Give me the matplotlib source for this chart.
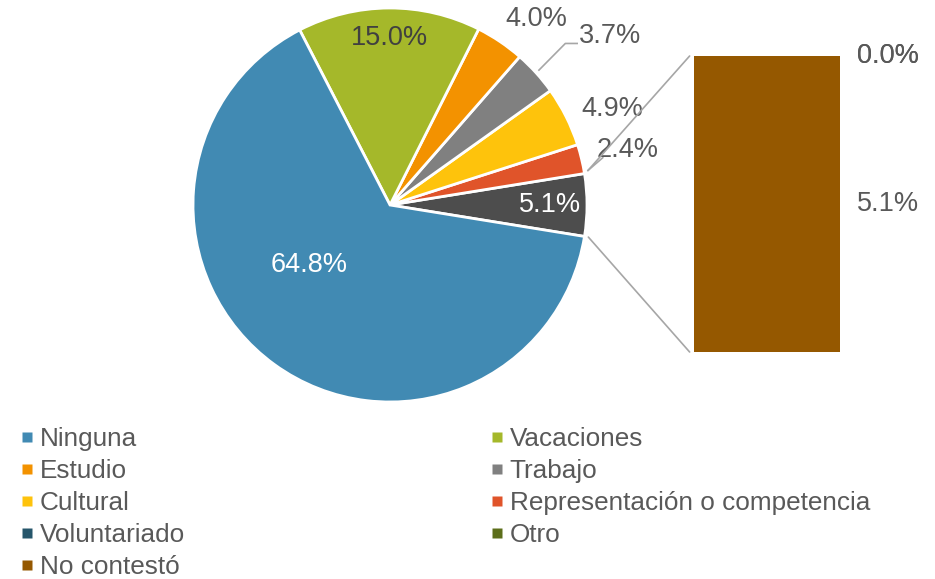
import numpy as np
import matplotlib
matplotlib.use("Agg")
from matplotlib import pyplot as plt
from matplotlib.lines import Line2D
from matplotlib.patches import ConnectionPatch

plt.rcParams['font.family'] = ['Liberation Sans', 'DejaVu Sans']

# datos (%)
pie_labels = ['Otros', 'Representación o competencia', 'Cultural', 'Trabajo',
              'Estudio', 'Vacaciones', 'Ninguna']
pie_values = [5.1, 2.4, 4.9, 3.7, 4.0, 15.0, 64.8]
bar_labels = ['No contestó', 'Otro', 'Voluntariado']
bar_values = [5.1, 0.0, 0.0]

legend_col1 = ['Ninguna', 'Estudio', 'Cultural', 'Voluntariado', 'No contestó']
legend_col2 = ['Vacaciones', 'Trabajo', 'Representación o competencia', 'Otro']

colors = {
    'Otros': '#4d4d4d',
    'Representación o competencia': '#e0542a',
    'Cultural': '#fec30c',
    'Trabajo': '#808080',
    'Estudio': '#f39200',
    'Vacaciones': '#a5b82a',
    'Ninguna': '#418ab3',
    'Voluntariado': '#26566b',
    'Otro': '#5c6e1a',
    'No contestó': '#955800',
}
text_col = '#595959'

# estilo de etiquetas: (radio, desfase de ángulo, color)
lab_style = [(0.81, 0.0, 'white'), (1.24, -0.5, text_col), (1.23, -3.2, text_col),
             (1.41, -4.7, text_col), (1.20, -4.2, text_col), (0.85, -0.2, '#404040'),
             (0.51, -17.7, 'white')]

W, H = 935, 579
fig = plt.figure(figsize=(W / 100, H / 100), dpi=100)

# pastel
cx, cy, r = 390, 205, 197
ax = fig.add_axes([(cx - r) / W, 1 - (cy + r) / H, 2 * r / W, 2 * r / H])
start = -pie_values[0] * 360 / sum(pie_values) / 2
wedges, _ = ax.pie(pie_values, colors=[colors[k] for k in pie_labels],
                   startangle=start, counterclock=True,
                   wedgeprops=dict(edgecolor='white', linewidth=2))
ax.set_xlim(-1, 1)
ax.set_ylim(-1, 1)
ax.axis('off')

for w, v, (rad, dang, c) in zip(wedges, pie_values, lab_style):
    mid = np.deg2rad((w.theta1 + w.theta2) / 2 + dang)
    ax.text(rad * np.cos(mid), rad * np.sin(mid), f'{v:.1f}%', ha='center',
            va='center', fontsize=19.5, color=c)

# líneas guía
lc = '#a6a6a6'
wg = wedges[3]
a = np.deg2rad((wg.theta1 + wg.theta2) / 2)
ax.plot([1.02 * np.cos(a), 0.89, 0.95], [1.02 * np.sin(a), 0.82, 0.82],
        color=lc, lw=1.2, clip_on=False)
wr = wedges[1]
a = np.deg2rad(wr.theta1 + 0.7)
ax.plot([1.02 * np.cos(a), 1.08], [1.02 * np.sin(a), 0.24],
        color=lc, lw=1.2, clip_on=False)

# barra
bx = fig.add_axes([694 / W, 1 - 352 / H, 146 / W, 296 / H])
bottom = 0
for lab, v in zip(bar_labels, bar_values):
    bx.bar(0, v, width=1, bottom=bottom, color=colors[lab], edgecolor='none')
    bx.text(0.83, bottom + v / 2, f'{v:.1f}%', ha='center', va='center',
            fontsize=19.5, color=text_col)
    bottom += v
bx.set_xlim(-0.5, 0.5)
bx.set_ylim(0, sum(bar_values))
bx.axis('off')

# conectores
t1 = np.deg2rad(wedges[0].theta2 + 0.7)
t2 = np.deg2rad(wedges[0].theta1)
for ang, yb in [(t1, sum(bar_values)), (t2, 0)]:
    con = ConnectionPatch(xyA=(1.02 * np.cos(ang), 1.02 * np.sin(ang)), coordsA=ax.transData,
                          xyB=(-0.53, yb), coordsB=bx.transData,
                          color=lc, lw=1.2)
    fig.add_artist(con)

# leyenda
def handles(names):
    return [Line2D([], [], ls='none', marker='s', markersize=7,
                   markerfacecolor=colors[n], markeredgecolor='none') for n in names]

for names, x0 in [(legend_col1, 20 / W), (legend_col2, 490 / W)]:
    fig.legend(handles(names), names, loc='upper left', bbox_to_anchor=(x0, 1 - 427 / H),
               frameon=False, fontsize=18.8, handlelength=0.55, handletextpad=0.2,
               labelspacing=0.31, borderpad=0, borderaxespad=0, labelcolor=text_col)

fig.savefig('out.png', dpi=100)
